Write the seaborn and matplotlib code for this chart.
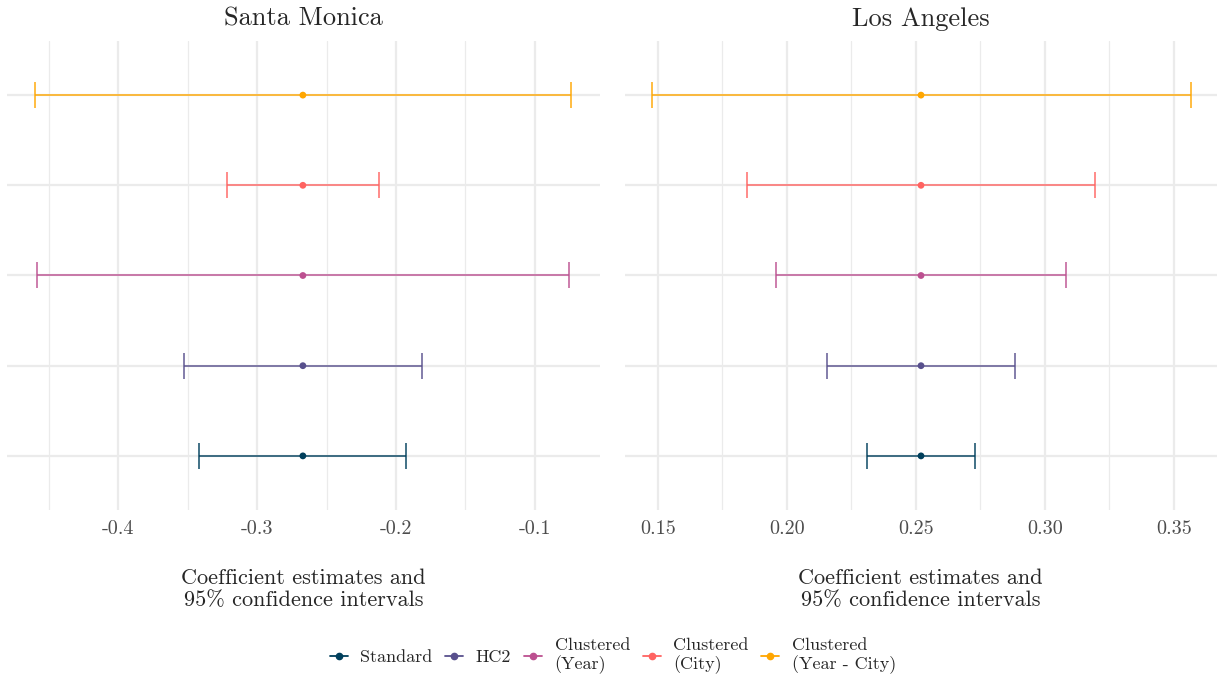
import numpy as np
import pandas as pd
import seaborn as sns
import matplotlib
matplotlib.use("Agg")
import matplotlib.pyplot as plt
from matplotlib.lines import Line2D
from matplotlib.ticker import MultipleLocator

# Standard-error specifications, bottom to top
methods = ["Standard", "HC2", "Clustered\n(Year)", "Clustered\n(City)", "Clustered\n(Year - City)"]
colors = ["#003f5c", "#58508d", "#bc5090", "#ff6361", "#ffa600"]

# Santa Monica coefficient and 95% CI bounds
sm_estimate = [-0.267, -0.267, -0.267, -0.267, -0.267]
sm_low = [-0.3415, -0.3525, -0.4585, -0.3217, -0.4600]
sm_high = [-0.1925, -0.1815, -0.0755, -0.2123, -0.0740]

# Los Angeles coefficient and 95% CI bounds
la_estimate = [0.252, 0.252, 0.252, 0.252, 0.252]
la_low = [0.2310, 0.2155, 0.1960, 0.1845, 0.1477]
la_high = [0.2730, 0.2885, 0.3080, 0.3195, 0.3565]

panels = [
    ("Santa Monica", sm_estimate, sm_low, sm_high, (-0.4799, -0.0532), [-0.4, -0.3, -0.2, -0.1], "{:.1f}"),
    ("Los Angeles", la_estimate, la_low, la_high, (0.1371, 0.3667), [0.15, 0.20, 0.25, 0.30, 0.35], "{:.2f}"),
]

sns.set_theme(style="whitegrid")
plt.rcParams["font.family"] = ["cmr10", "DejaVu Serif"]
plt.rcParams["axes.unicode_minus"] = False
plt.rcParams["axes.formatter.use_mathtext"] = False

fig = plt.figure(figsize=(12.21, 6.82), dpi=100)
axes = [
    fig.add_axes([7 / 1221, 1 - 510 / 682, 593 / 1221, 469 / 682]),
    fig.add_axes([624.5 / 1221, 1 - 510 / 682, 592.5 / 1221, 469 / 682]),
]

grid_col = "#ebebeb"
for ax, (title, est, lo, hi, xlim, ticks, fmt) in zip(axes, panels):
    df = pd.DataFrame({"method": methods, "estimate": est, "low": lo, "high": hi})
    df["err_lo"] = df["estimate"] - df["low"]
    df["err_hi"] = df["high"] - df["estimate"]

    for i, row in df.iterrows():
        ax.errorbar(row["estimate"], row["method"],
                    xerr=[[row["err_lo"]], [row["err_hi"]]],
                    fmt="none", ecolor=colors[i], alpha=0.8,
                    elinewidth=1.3, capsize=9.5, capthick=1.3, zorder=3)
    sns.scatterplot(data=df, x="estimate", y="method", hue="method",
                    palette=colors, s=24, edgecolor="none", legend=False,
                    ax=ax, zorder=4)

    ax.set_xlim(*xlim)
    ax.set_ylim(-0.6, 4.6)
    ax.set_xticks(ticks)
    ax.set_xticklabels([fmt.format(t) for t in ticks])
    ax.xaxis.set_minor_locator(MultipleLocator((ticks[1] - ticks[0]) / 2))
    ax.set_yticklabels([])
    ax.tick_params(axis="both", which="both", length=0)
    ax.tick_params(axis="x", labelsize=14.5, labelcolor="#4d4d4d", pad=7)
    ax.grid(True, which="major", color=grid_col, linewidth=1.6)
    ax.grid(True, which="minor", axis="x", color=grid_col, linewidth=0.9)
    ax.set_axisbelow(True)
    for sp in ax.spines.values():
        sp.set_visible(False)
    ax.set_facecolor("white")
    ax.set_ylabel("")
    ax.set_xlabel("Coefficient estimates and\n95% confidence intervals",
                  fontsize=16, labelpad=22, linespacing=1.18)
    ax.set_title(title, fontsize=19, pad=11)

handles = [Line2D([0], [0], color=c, marker="o", markersize=4.5, linewidth=1.3)
           for c in colors]
fig.legend(handles, methods, loc="center", bbox_to_anchor=(0.502, 1 - 656 / 682),
           ncol=5, frameon=False, fontsize=13, handlelength=1.0,
           handletextpad=0.7, columnspacing=0.7, labelspacing=0.2)

fig.savefig("out.png", dpi=100, facecolor="white")
